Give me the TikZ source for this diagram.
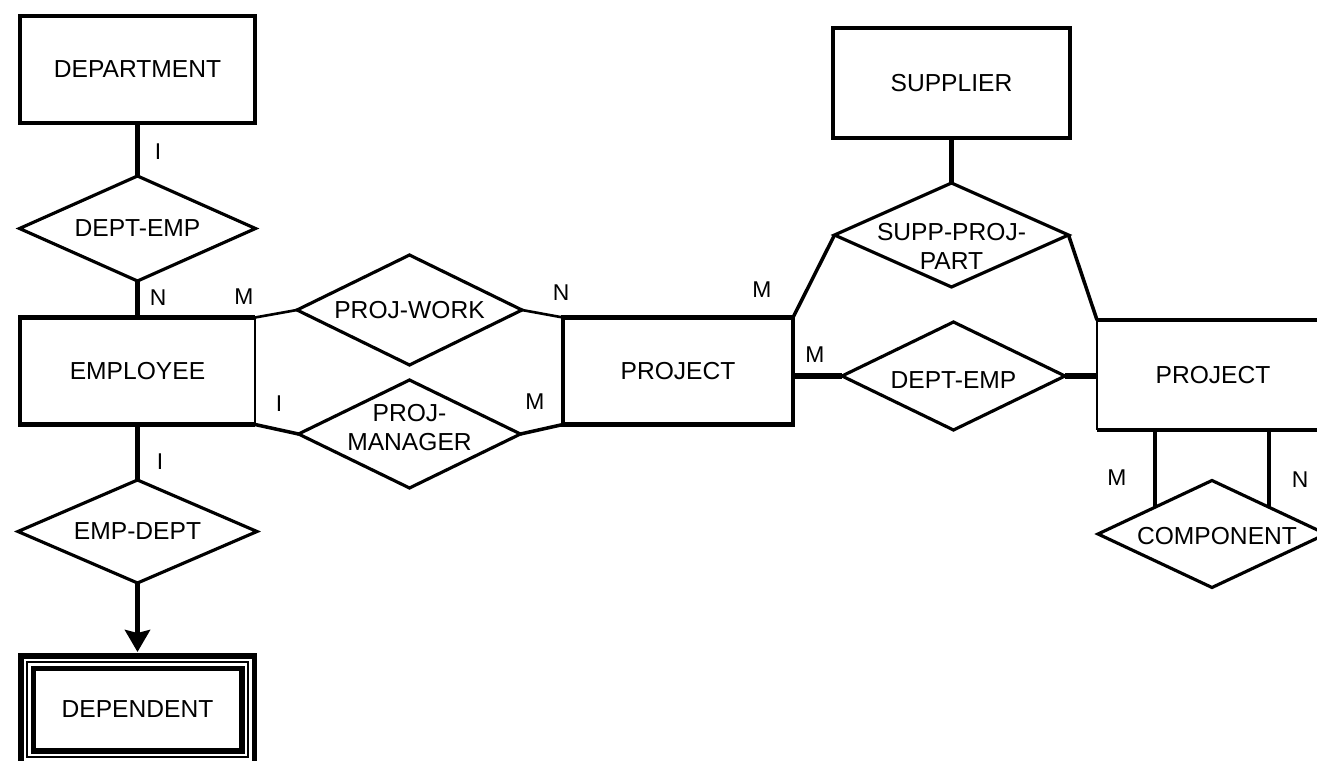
\documentclass[tikz,border=0pt]{standalone}
\usepackage{fontspec}
\setmainfont{Liberation Sans}
\usetikzlibrary{arrows.meta,shapes.geometric}

\tikzset{
  boxline/.style={line width=2.6pt},
  entity/.style={draw,rectangle,boxline,minimum width=4.7cm,minimum height=2.14cm,inner sep=0pt,outer sep=0pt},
  rel/.style={draw,diamond,line width=1.8pt,inner sep=0pt,outer sep=0pt},
  card/.style={font=\fontsize{13}{15}\selectfont},
  heavy/.style={line width=3.2pt},
  medium/.style={line width=2pt},
  light/.style={line width=1.5pt},
}

\begin{document}
\begin{tikzpicture}[font=\fontsize{14}{16.5}\selectfont,line join=miter]
\useasboundingbox (0,0) rectangle (26.34,15.2);
\clip (0,0) rectangle (26.34,15.2);
% entities
\node[entity] (dept) at (2.75,13.81) {DEPARTMENT};
\node[entity,draw=none] (emp) at (2.75,7.78) {EMPLOYEE};
\draw[boxline] (emp.north east) -- (emp.north west) -- (emp.south west) -- (emp.south east);
\draw[light] (emp.north east) -- (emp.south east);
\node[entity,double,double distance=0.14cm,line width=2.9pt,minimum width=4.42cm,minimum height=1.9cm] (dep) at (2.75,1.01) {DEPENDENT};
\draw[line width=0.7pt] (dep.north west) rectangle (dep.south east);
\node[entity,minimum width=4.6cm] (proj) at (13.56,7.78) {PROJECT};
\node[entity,minimum width=4.74cm,minimum height=2.2cm] (supp) at (19.03,13.54) {SUPPLIER};
\node[entity,draw=none,minimum width=4.64cm,minimum height=2.2cm] (proj2) at (24.26,7.7) {PROJECT};
\draw[boxline] (proj2.north west) -- (proj2.north east) -- (proj2.south east) -- (proj2.south west);
\draw[light] (proj2.north west) -- (proj2.south west);
% relationships
\node[rel,minimum width=4.72cm,minimum height=2.1cm,label=center:DEPT-EMP] (deptemp) at (2.75,10.63) {};
\node[rel,minimum width=4.78cm,minimum height=2.06cm,label=center:EMP-DEPT] (empdept) at (2.75,4.57) {};
\node[rel,minimum width=4.5cm,minimum height=2.2cm,label=center:PROJ-WORK] (pwork) at (8.19,9.0) {};
\node[rel,minimum width=4.44cm,minimum height=2.16cm,label={[align=center,yshift=0.12cm]center:PROJ-\\MANAGER}] (pmgr) at (8.19,6.52) {};
\node[rel,minimum width=4.68cm,minimum height=2.08cm,label={[align=center,yshift=-0.22cm]center:SUPP-PROJ-\\PART}] (spp) at (19.03,10.5) {};
\node[rel,minimum width=4.46cm,minimum height=2.16cm,label={[yshift=-0.08cm]center:DEPT-EMP}] (deptemp2) at (19.07,7.68) {};
\node[rel,minimum width=4.56cm,minimum height=2.14cm,label={[xshift=0.1cm,yshift=-0.05cm]center:COMPONENT}] (comp) at (24.24,4.52) {};
% links
\draw[heavy] (dept.south) -- (deptemp.north);
\draw[heavy] (deptemp.south) -- (emp.north);
\draw[heavy] (emp.south) -- (empdept.north);
\draw[heavy,-{Stealth[length=0.44cm,width=0.5cm,inset=0.06cm]}] (empdept.south) -- ([yshift=0.2cm]dep.north);
\draw[light] (emp.north east) -- (pwork.west);
\draw[medium] (emp.south east) -- (pmgr.west);
\draw[light] (pwork.east) -- (proj.north west);
\draw[medium] (pmgr.east) -- (proj.south west);
\draw[heavy] (supp.south) -- (spp.north);
\draw[medium] (spp.west) -- (proj.north east);
\draw[medium] (spp.east) -- (proj2.north west);
\draw[heavy] (deptemp2.west) -- (deptemp2.west -| proj.east);
\draw[heavy] (deptemp2.east) -- (deptemp2.east -| proj2.west);
\draw[medium] (comp.north west) -- (comp.north west |- proj2.south);
\draw[boxline] (comp.north east) -- (comp.north east |- proj2.south);
% cardinalities
\node[card] (c1) at (3.16,12.16) {I};
\node[card] (c2) at (3.16,9.24) {N};
\node[card] (c3) at (4.88,9.26) {M};
\node[card] (c4) at (5.58,7.12) {I};
\node[card] (c5) at (11.22,9.34) {N};
\node[card] (c6) at (10.7,7.16) {M};
\node[card] (c7) at (3.2,5.96) {I};
\node[card] (c8) at (15.24,9.4) {M};
\node[card] (c9) at (16.3,8.1) {M};
\node[card] (c10) at (22.34,5.64) {M};
\node[card] (c11) at (26.0,5.6) {N};
\end{tikzpicture}
\end{document}
